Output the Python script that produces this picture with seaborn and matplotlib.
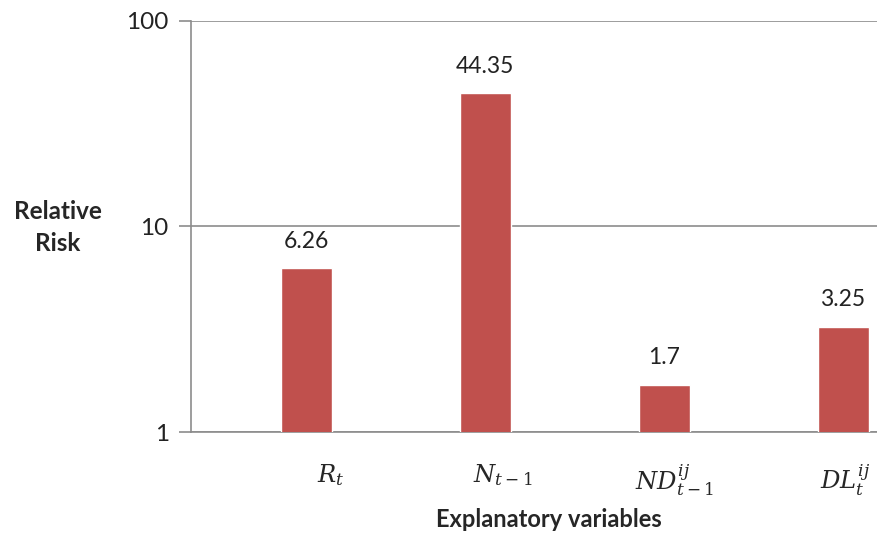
import matplotlib
matplotlib.use("Agg")
import matplotlib.pyplot as plt
import matplotlib.ticker as mticker
import matplotlib.transforms as mtransforms
import seaborn as sns

# relative risk per explanatory variable
variables = [r"$R_t$", r"$N_{t-1}$", r"$ND_{t-1}^{ij}$", r"$DL_t^{ij}$"]
risk = [6.26, 44.35, 1.7, 3.25]
risk_labels = ["6.26", "44.35", "1.7", "3.25"]
y_ticks = [1, 10, 100]

sns.set_style("white")
plt.rcParams['font.family'] = ['Lato', 'DejaVu Sans']
plt.rcParams['mathtext.fontset'] = 'dejavuserif'

grey = "#8c8c8c"
bar_color = "#C0504D"

fig = plt.figure(figsize=(8.77, 5.35), dpi=100)
ax = fig.add_axes([0.2178, 0.1925, 0.85, 0.7688])
ax.set_yscale('log')

sns.barplot(x=variables, y=risk, color=bar_color, width=0.285, saturation=1,
            ax=ax, zorder=3)

ax.set_ylim(1, 100)
ax.set_xlim(-0.646, 3.19 + (0.85 - 0.7822) / 0.7822 * 3.836)
ax.yaxis.set_major_locator(mticker.FixedLocator(y_ticks))
ax.yaxis.set_major_formatter(mticker.FixedFormatter([str(t) for t in y_ticks]))
ax.yaxis.set_minor_locator(mticker.NullLocator())
ax.grid(axis='y', color=grey, linewidth=1.2, zorder=0)
ax.grid(axis='x', visible=False)

for s in ['top', 'right']:
    ax.spines[s].set_visible(False)
for s in ['left', 'bottom']:
    ax.spines[s].set_color(grey)
    ax.spines[s].set_linewidth(1.2)

ax.tick_params(axis='y', which='major', length=9, width=1.2, color=grey,
               labelsize=17.5, labelcolor='#222222', pad=7, left=True)
ax.tick_params(axis='x', length=0, labelsize=17.5, pad=22)

# the equation labels sit a little right of the bar centres
shifts = [24, 17, 10, 2]
for lab, dx in zip(ax.get_xticklabels(), shifts):
    lab.set_transform(lab.get_transform() +
                      mtransforms.ScaledTranslation(dx / 100, 0, fig.dpi_scale_trans))

for i, (v, lab) in enumerate(zip(risk, risk_labels)):
    ax.annotate(lab, (i, v), xytext=(0, 12), textcoords='offset points',
                ha='center', va='bottom', fontsize=16.5, color='#222222')

ax.set_ylabel("Relative\nRisk", rotation=0, fontsize=17.5, fontweight='bold',
              ha='center', va='center', linespacing=1.45)
ax.yaxis.set_label_coords(-0.179, 0.4976)
ax.set_xlabel("Explanatory variables", fontsize=17, fontweight='bold', va='center')
ax.xaxis.set_label_coords(0.48, -0.212)

fig.savefig("out.png", dpi=100)
